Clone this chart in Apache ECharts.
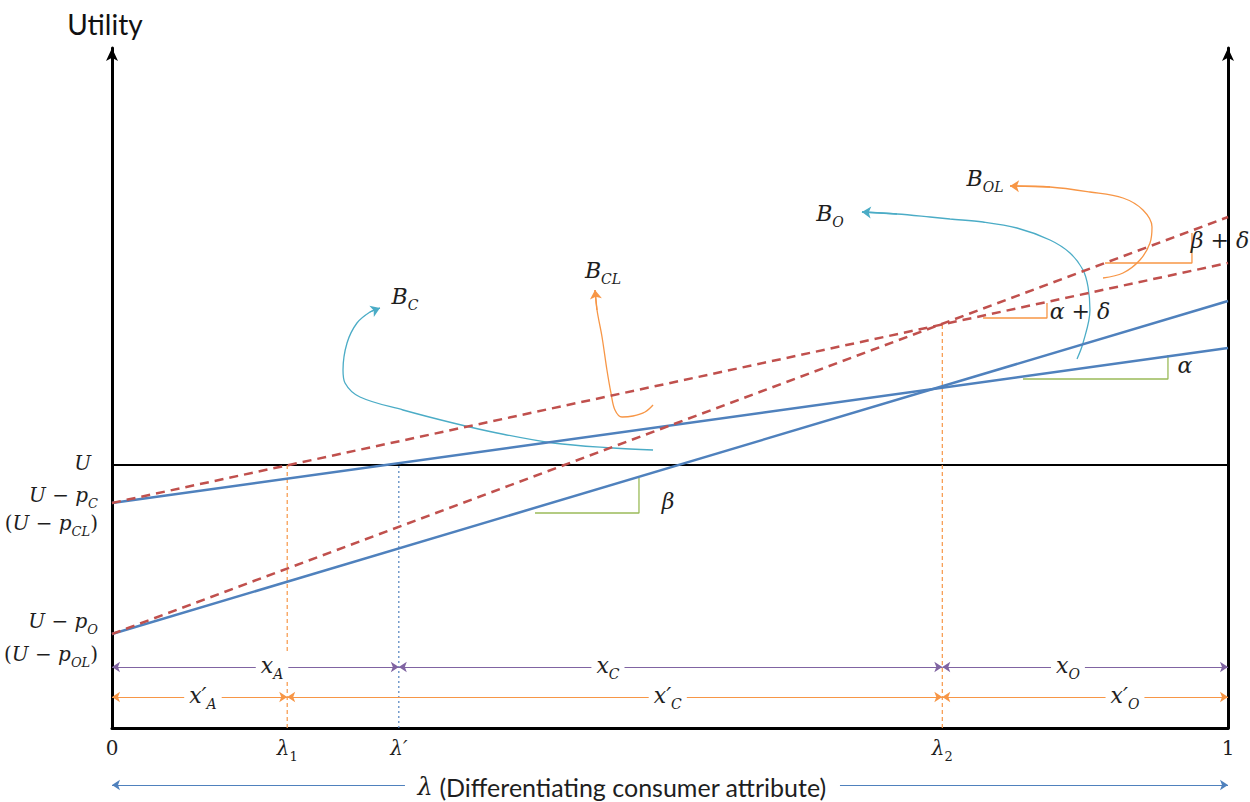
<!DOCTYPE html>
<html>
<head>
<meta charset="utf-8">
<title>Utility vs lambda</title>
<script src="https://cdn.jsdelivr.net/npm/echarts@6/dist/echarts.min.js"></script>
<style>
  html, body { margin: 0; background: #fff; }
  #chart { width: 1250px; height: 802px; }
</style>
</head>
<body>
<div id="chart"></div>
<script>
// x: lambda (0..1), y: utility (arbitrary units)
const uLevel = 26.3;
const lineC = [[0, 22.5], [1, 38.0]];
const lineO = [[0, 9.4], [1, 42.7]];
const lineCL = [[0, 22.5], [1, 46.5]];
const lineOL = [[0, 9.4], [1, 51.1]];

const lambda1 = 0.157;
const lambdaP = 0.257;
const lambda2 = 0.744;
const lambda2Top = 40.5;

const xTickValues = [0, lambda1, lambdaP, lambda2, 1];
const xTickLabels = ['{r|0}', '{m|λ}{sd|1}', '{m|λ′}', '{m|λ}{sd|2}', '{r|1}'];

const yTickValues = [26.3, 23.1, 20.3, 10.5, 7.2];
const yTickLabels = [
  '{u|U}',
  '{m|U}{r| − }{m|p}{s|C}',
  '{r|(}{m|U}{r| − }{m|p}{s|CL}{r|)}',
  '{m|U}{r| − }{m|p}{s|O}',
  '{r|(}{m|U}{r| − }{m|p}{s|OL}{r|)}'
];

// slope markers
const slopeAlpha = [[0.8163, 34.9], [0.9462, 34.9], [0.9462, 37.3]];
const slopeBeta = [[0.3790, 21.5], [0.4722, 21.5], [0.4722, 25.0]];
const slopeAlphaDelta = [[0.7805, 41.0], [0.8378, 41.0], [0.8378, 42.5]];
const slopeBetaDelta = [[0.8898, 46.5], [0.9677, 46.5], [0.9677, 49.5]];

// curved arrows (last point = arrow tip)
const curveBC = [[0.4848, 27.8], [0.4489, 28.0], [0.3952, 28.5], [0.3450, 29.5], [0.3056, 30.5],
  [0.2608, 31.8], [0.2222, 33.1], [0.2088, 34.5], [0.2070, 35.8], [0.2106, 38.5],
  [0.2195, 40.5], [0.2312, 41.6], [0.2401, 42.0]];
const curveBCL = [[0.4848, 32.3], [0.4776, 31.6], [0.4668, 31.2], [0.4570, 31.1], [0.4507, 31.8],
  [0.4471, 33.5], [0.4435, 35.8], [0.4391, 39.1], [0.4346, 41.8], [0.4328, 43.8]];
const curveBO = [[0.8647, 36.9], [0.8701, 38.5], [0.8763, 41.8], [0.8746, 44.1], [0.8701, 45.8],
  [0.8584, 47.5], [0.8405, 48.8], [0.8109, 50.0], [0.7805, 50.6], [0.7509, 50.9],
  [0.7330, 51.1], [0.7034, 51.4], [0.6720, 51.6]];
const curveBOL = [[0.8880, 45.0], [0.9059, 45.5], [0.9211, 46.8], [0.9301, 48.5], [0.9319, 50.1],
  [0.9238, 51.8], [0.9059, 53.0], [0.8763, 53.6], [0.8405, 54.1], [0.8047, 54.2]];

// dimension rows
const purpleRow = 6.1;
const purpleBreaks = [0, lambdaP, lambda2, 1];
const orangeRow = 3.1;
const orangeBreaks = [0, lambda1, lambda2, 1];
const bottomRow = -5.7;
const bottomArrows = [[0.2625, 0], [0.6523, 1]];

const annotations = [
  [0.2625, 43.0, '{m|B}{s|C}'],
  [0.4400, 45.6, '{m|B}{s|CL}'],
  [0.6434, 51.3, '{m|B}{s|O}'],
  [0.7823, 54.8, '{m|B}{s|OL}'],
  [0.9615, 36.1, '{m|α}'],
  [0.4982, 22.5, '{m|β}'],
  [0.8674, 41.5, '{m|α}{r| + }{m|δ}'],
  [0.9928, 48.6, '{m|β}{r| + }{m|δ}']
];
const dimLabels = [
  [0.1434, purpleRow, '{m|x}{s|A}'],
  [0.4444, purpleRow, '{m|x}{s|C}'],
  [0.8566, purpleRow, '{m|x}{s|O}'],
  [0.0815, orangeRow, '{m|x′}{s|A}'],
  [0.4980, orangeRow, '{m|x′}{s|C}'],
  [0.9077, orangeRow, '{m|x′}{s|O}']
];

const BLUE = '#4F81BD';
const RED = '#C0504D';
const ORANGE = '#F79646';
const PURPLE = '#8064A2';
const GREEN = '#9BBB59';
const CYAN = '#4BACC6';
const INK = '#1e1e1e';
const mathFont = 'DejaVu Serif';

function mathRich(size, subSize, drop) {
  return {
    m: { fontFamily: mathFont, fontStyle: 'italic', fontSize: size, lineHeight: size + 4, verticalAlign: 'top', color: INK },
    r: { fontFamily: mathFont, fontSize: size, lineHeight: size + 4, verticalAlign: 'top', color: INK },
    u: { fontFamily: mathFont, fontStyle: 'italic', fontSize: size, lineHeight: size + 4, verticalAlign: 'top', color: INK, padding: [0, 7, 0, 0] },
    s: { fontFamily: mathFont, fontStyle: 'italic', fontSize: subSize, lineHeight: subSize + 1, verticalAlign: 'top', padding: [drop, 0, 0, 0], color: INK },
    sd: { fontFamily: mathFont, fontSize: subSize, lineHeight: subSize + 1, verticalAlign: 'top', padding: [drop, 0, 0, 0], color: INK }
  };
}
const rich = mathRich(20, 13, 12);
const plotRich = mathRich(22, 14, 13);

function pickLabel(values, labels) {
  return function (val) {
    const i = values.findIndex(t => Math.abs(t - val) < 1e-6);
    return i >= 0 ? labels[i] : '';
  };
}

function plain(data, color, width, type, z) {
  return {
    type: 'line', data: data, symbol: 'none', silent: true, z: z || 2,
    lineStyle: { color: color, width: width, type: type || 'solid' }
  };
}

function segments(breaks, row) {
  const out = [];
  for (let i = 0; i < breaks.length - 1; i++) {
    out.push({ coords: [[breaks[i], row], [breaks[i + 1], row]] });
  }
  return out;
}

function tip(curve, color) {
  return { coords: [curve[curve.length - 2], curve[curve.length - 1]], lineStyle: { color: color } };
}

// text placed at data coordinates, drawn through a custom series
function textSeries(list, boxed) {
  return {
    type: 'custom', coordinateSystem: 'cartesian2d', silent: true, z: 6,
    encode: { x: 0, y: 1 },
    data: list.map(a => [a[0], a[1]]),
    renderItem: function (params, api) {
      const p = api.coord([api.value(0), api.value(1)]);
      const style = {
        text: list[params.dataIndex][2], rich: plotRich,
        align: 'center', verticalAlign: 'middle', fill: INK
      };
      if (boxed) {
        style.backgroundColor = '#fff';
        style.padding = [0, 5];
      }
      return { type: 'text', x: p[0], y: p[1], style: style };
    }
  };
}

const chart = echarts.init(document.getElementById('chart'), null, { renderer: 'svg' });

chart.setOption({
  animation: false,
  backgroundColor: '#fff',
  grid: { left: 112, right: 22, top: 48, bottom: 74, outerBoundsMode: 'none' },
  xAxis: {
    type: 'value', min: 0, max: 1,
    axisLine: { show: true, lineStyle: { color: '#000', width: 3 } },
    axisTick: { show: false },
    splitLine: { show: false },
    axisLabel: {
      customValues: xTickValues, margin: 10,
      formatter: pickLabel(xTickValues, xTickLabels), rich: rich
    },
    name: '{l|λ} (Differentiating consumer attribute)',
    nameLocation: 'middle', nameGap: 46,
    nameTextStyle: {
      fontFamily: 'Lato', fontSize: 25, color: INK, padding: [0, 96, 0, 0],
      rich: { l: { fontFamily: mathFont, fontStyle: 'italic', fontSize: 24, color: INK } }
    }
  },
  yAxis: [{
    type: 'value', min: 0, max: 68,
    axisLine: { show: true, symbol: ['none', 'arrow'], symbolSize: [9, 13], lineStyle: { color: '#000', width: 3 } },
    axisTick: { show: false },
    splitLine: { show: false },
    axisLabel: {
      customValues: yTickValues, margin: 14, align: 'right',
      formatter: pickLabel(yTickValues, yTickLabels), rich: rich
    },
    name: 'Utility', nameLocation: 'end', nameGap: 10,
    nameTextStyle: { fontFamily: 'Lato', fontSize: 28, color: '#111', padding: [0, 14, 0, 0] }
  }, {
    type: 'value', min: 0, max: 68, position: 'right',
    axisLine: { show: true, symbol: ['none', 'arrow'], symbolSize: [9, 13], lineStyle: { color: '#000', width: 3 } },
    axisTick: { show: false },
    splitLine: { show: false },
    axisLabel: { show: false }
  }],
  series: [
    plain([[0, uLevel], [1, uLevel]], '#000', 2),
    plain(lineC, BLUE, 2.5, 'solid', 4),
    plain(lineO, BLUE, 2.5, 'solid', 4),
    plain(lineCL, RED, 2.5, [9, 6], 4),
    plain(lineOL, RED, 2.5, [9, 6], 4),
    plain([[lambda1, 0], [lambda1, uLevel]], ORANGE, 1.2, [4, 3]),
    plain([[lambdaP, 0], [lambdaP, uLevel]], BLUE, 1.2, [2, 3]),
    plain([[lambda2, 0], [lambda2, lambda2Top]], ORANGE, 1.2, [4, 3]),
    plain(slopeAlpha, GREEN, 1.3),
    plain(slopeBeta, GREEN, 1.3),
    plain(slopeAlphaDelta, ORANGE, 1.3),
    plain(slopeBetaDelta, ORANGE, 1.3),
    Object.assign(plain(curveBC, CYAN, 1.3, 'solid', 3), { smooth: 0.35 }),
    Object.assign(plain(curveBCL, ORANGE, 1.3, 'solid', 3), { smooth: 0.35 }),
    Object.assign(plain(curveBO, CYAN, 1.3, 'solid', 3), { smooth: 0.35 }),
    Object.assign(plain(curveBOL, ORANGE, 1.3, 'solid', 3), { smooth: 0.35 }),
    {
      type: 'lines', coordinateSystem: 'cartesian2d', silent: true, z: 3,
      symbol: ['none', 'arrow'], symbolSize: 9,
      lineStyle: { width: 1.3, opacity: 1 },
      data: [tip(curveBC, CYAN), tip(curveBCL, ORANGE), tip(curveBO, CYAN), tip(curveBOL, ORANGE)]
    },
    {
      type: 'lines', coordinateSystem: 'cartesian2d', silent: true, z: 3,
      symbol: ['arrow', 'arrow'], symbolSize: 8,
      lineStyle: { color: PURPLE, width: 1.2, opacity: 1 },
      data: segments(purpleBreaks, purpleRow)
    },
    {
      type: 'lines', coordinateSystem: 'cartesian2d', silent: true, z: 3,
      symbol: ['arrow', 'arrow'], symbolSize: 8,
      lineStyle: { color: ORANGE, width: 1.2, opacity: 1 },
      data: segments(orangeBreaks, orangeRow)
    },
    {
      type: 'lines', coordinateSystem: 'cartesian2d', silent: true, z: 3, clip: false,
      symbol: ['none', 'arrow'], symbolSize: 8,
      lineStyle: { color: BLUE, width: 1.2, opacity: 1 },
      data: bottomArrows.map(a => ({ coords: [[a[0], bottomRow], [a[1], bottomRow]] }))
    },
    textSeries(annotations, false),
    textSeries(dimLabels, true)
  ]
});
</script>
</body>
</html>
